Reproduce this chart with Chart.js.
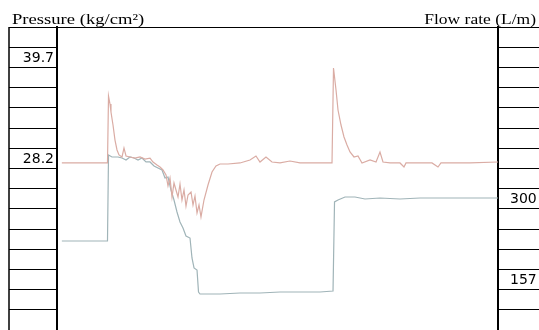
<!DOCTYPE html>
<html>
<head>
<meta charset="utf-8">
<title>Pressure and flow rate</title>
<script src="https://cdn.jsdelivr.net/npm/chart.js@4.4.1/dist/chart.umd.min.js"></script>
<style>
  html, body { margin: 0; padding: 0; background: #fff; }
  #wrap { width: 539px; height: 330px; position: relative; }
</style>
</head>
<body>
<div id="wrap"><canvas id="traceChart"></canvas></div>
<script>
// 1. DATA (time in % of the record)
const pressureTime = [1.1, 11.45, 11.68, 12.02, 12.24, 12.7, 13.15, 13.61, 14.06, 14.74, 15.19, 15.65, 16.55, 17.69, 18.82, 19.95, 21.09, 21.77, 22.68, 23.36, 24.04, 24.72, 25.17, 25.62, 26.08, 26.53, 26.98, 27.44, 27.89, 28.34, 28.8, 29.25, 29.71, 30.39, 30.84, 31.29, 31.75, 32.2, 32.65, 33.33, 34.24, 35.15, 36.05, 36.96, 38.78, 41.5, 43.76, 45.12, 46.03, 47.39, 48.75, 50.57, 52.83, 55.1, 59.64, 62.36, 62.7, 63.27, 63.72, 64.4, 65.08, 65.76, 66.44, 67.35, 68.25, 69.16, 70.98, 72.34, 73.24, 73.92, 75.51, 77.78, 78.68, 79.14, 82.31, 85.03, 86.39, 87.07, 93.65, 100];
const pressureValues = [27.67, 27.67, 35.29, 34.38, 33.47, 31.99, 30.28, 29.15, 28.58, 28.35, 29.37, 28.46, 28.35, 28.23, 28.35, 28.12, 28.23, 27.78, 27.44, 27.21, 26.87, 26.3, 25.05, 25.96, 23.79, 25.39, 24.59, 23.79, 25.27, 23.45, 24.59, 22.77, 24.02, 24.36, 22.88, 23.91, 21.97, 22.88, 21.52, 23.45, 25.16, 26.64, 27.32, 27.55, 27.55, 27.67, 28.01, 28.46, 27.78, 28.35, 27.78, 27.67, 27.89, 27.67, 27.67, 27.67, 38.48, 35.98, 33.7, 31.99, 30.63, 29.72, 28.92, 28.35, 28.46, 27.67, 28.01, 27.78, 28.92, 27.78, 27.67, 27.67, 27.21, 27.67, 27.67, 27.67, 27.21, 27.67, 27.67, 27.78];

const flowTime = [1.1, 11.45, 11.68, 12.47, 13.83, 14.74, 15.65, 16.55, 17.46, 18.37, 19.27, 20.18, 21.09, 22.0, 22.9, 23.81, 24.49, 25.17, 25.85, 26.53, 27.21, 27.89, 28.57, 29.25, 30.16, 30.61, 31.07, 31.75, 32.09, 32.43, 34.69, 36.96, 41.5, 46.03, 50.57, 55.1, 59.64, 62.59, 62.93, 63.72, 65.31, 67.57, 69.84, 73.24, 77.78, 82.31, 86.85, 91.38, 95.92, 100];
const flowValues = [225.1, 225.1, 377.3, 373.8, 373.8, 372.0, 368.5, 373.8, 372.0, 368.5, 372.0, 365.0, 365.0, 357.9, 354.3, 350.8, 336.6, 338.4, 315.4, 297.7, 276.5, 258.8, 248.1, 234.0, 230.4, 195.1, 177.4, 173.8, 134.9, 131.3, 131.3, 131.3, 133.1, 133.1, 134.9, 134.9, 134.9, 136.6, 294.2, 297.7, 303.0, 303.0, 299.5, 301.2, 299.5, 301.2, 301.2, 301.2, 301.2, 301.2];

// 2. SIDE TABLES: one label per cell, top to bottom
const pressureCellLabels = ['', '39.7', '', '', '', '', '28.2', '', '', '', '', '', '', '', ''];
const flowCellLabels = ['', '', '', '', '', '', '', '', '300', '', '', '', '157', '', ''];
const pressureTop = 43.15, pressureStep = 2.3;
const flowTop = 603.875, flowStep = 35.75;

const leftTitle = 'Pressure (kg/cm²)';
const rightTitle = 'Flow rate (L/m)';

function toPoints(xs, ys) {
    return xs.map((x, i) => ({ x: x, y: ys[i] }));
}

// a y axis drawn as a column of boxes, label sits in the box under its tick
function cellAxis(position, top, step, labels, colWidth, labelPad) {
    return {
        type: 'linear',
        position: position,
        min: top - step * labels.length,
        max: top,
        afterBuildTicks: axis => {
            axis.ticks = labels.concat(['']).map((_, i) => ({ value: top - step * i }));
        },
        afterFit: axis => { axis.width = colWidth; },
        ticks: {
            autoSkip: false,
            padding: labelPad,
            labelOffset: 11,
            color: '#000',
            font: { family: 'DejaVu Sans', size: 14 },
            callback: (v, i) => labels[i] || ''
        },
        grid: { drawOnChartArea: false, drawTicks: true, tickLength: colWidth, color: '#000', lineWidth: 1 },
        border: { display: true, color: '#000', width: 2 }
    };
}

// 3. FRAME EDGE + HEADINGS
const headings = {
    id: 'headings',
    afterDraw(chart) {
        const ctx = chart.ctx;
        const yP = chart.scales.yP;
        ctx.save();
        ctx.strokeStyle = '#000';
        ctx.lineWidth = 1.5;
        ctx.beginPath();
        ctx.moveTo(yP.left, yP.top);
        ctx.lineTo(yP.left, yP.bottom);
        ctx.stroke();

        ctx.fillStyle = '#000';
        ctx.font = '14px "Liberation Serif"';
        ctx.textBaseline = 'alphabetic';

        ctx.save();
        ctx.translate(12, 24);
        ctx.scale(1.33, 1);
        ctx.textAlign = 'left';
        ctx.fillText(leftTitle, 0, 0);
        ctx.restore();

        ctx.save();
        ctx.translate(536, 24);
        ctx.scale(1.25, 1);
        ctx.textAlign = 'right';
        ctx.fillText(rightTitle, 0, 0);
        ctx.restore();

        ctx.restore();
    }
};

// 4. CHART
const ctx = document.getElementById('traceChart').getContext('2d');
const traceChart = new Chart(ctx, {
    type: 'line',
    data: {
        datasets: [{
            label: 'Pressure',
            data: toPoints(pressureTime, pressureValues),
            yAxisID: 'yP',
            borderColor: 'rgb(218, 172, 164)',
            borderWidth: 1.2,
            pointRadius: 0,
            tension: 0
        }, {
            label: 'Flow rate',
            data: toPoints(flowTime, flowValues),
            yAxisID: 'yF',
            borderColor: 'rgb(160, 180, 184)',
            borderWidth: 1.2,
            pointRadius: 0,
            tension: 0
        }]
    },
    options: {
        responsive: true,
        maintainAspectRatio: false,
        animation: false,
        layout: { padding: { left: 9, right: 0, top: 27, bottom: 0 } },
        plugins: { legend: { display: false }, tooltip: { enabled: false } },
        scales: {
            x: {
                type: 'linear',
                position: 'top',
                min: 0,
                max: 100,
                ticks: { display: false },
                grid: { display: false, drawTicks: false },
                border: { display: true, color: '#000', width: 1 },
                afterFit: axis => { axis.height = 0; }
            },
            yP: cellAxis('left', pressureTop, pressureStep, pressureCellLabels, 48, -45),
            yF: cellAxis('right', flowTop, flowStep, flowCellLabels, 41, -29)
        }
    },
    plugins: [headings]
});
</script>
</body>
</html>
